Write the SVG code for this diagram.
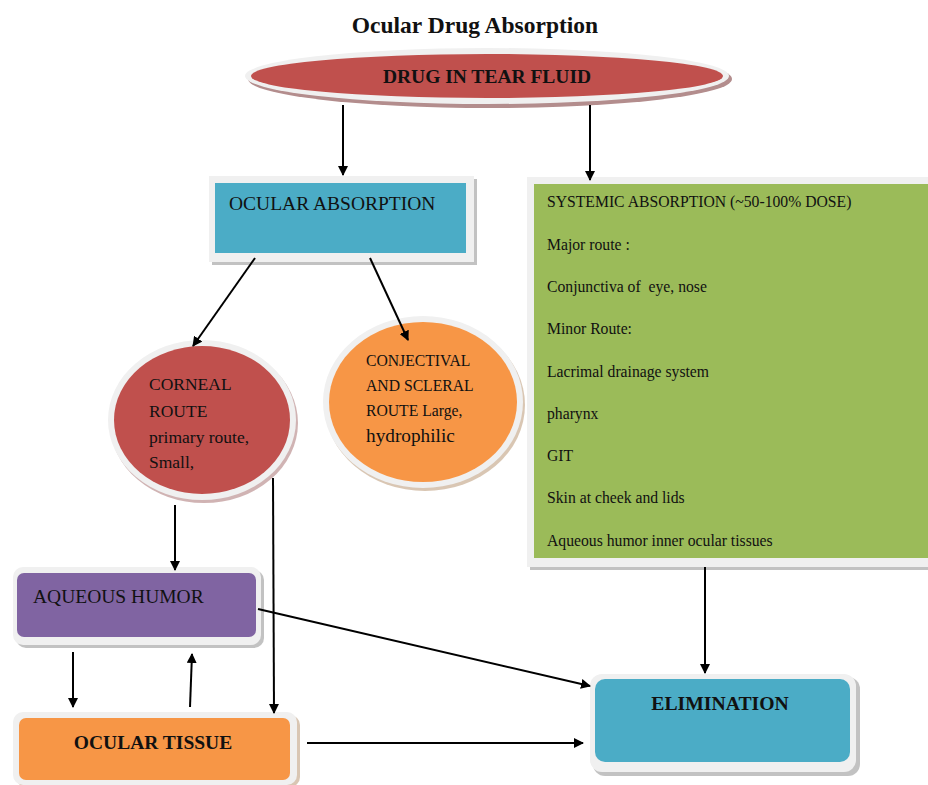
<svg xmlns="http://www.w3.org/2000/svg" width="928" height="785" viewBox="0 0 928 785">
<defs>
<marker id="ah" markerWidth="10" markerHeight="10" refX="9" refY="5" orient="auto" markerUnits="userSpaceOnUse">
<path d="M0,0 L10,5 L0,10 Z" fill="#000"/>
</marker>
</defs>
<style>
.t{font-family:"Liberation Serif","Times New Roman",serif;fill:#111}
.b{font-weight:bold}
.sh{fill:#9a9a9a;opacity:0.6}
.rim{fill:#f0f0f0}
.con{stroke:#000;stroke-width:2;fill:none;marker-end:url(#ah)}
</style>
<rect width="928" height="785" fill="#fff"/>
<text class="t b" x="475" y="33" font-size="23.5" text-anchor="middle">Ocular Drug Absorption</text>

<g id="drug">
<ellipse cx="490" cy="79" rx="242" ry="29" fill="#a07070" opacity="0.8"/>
<ellipse cx="487" cy="76" rx="242" ry="28" class="rim"/>
<ellipse cx="487" cy="76" rx="236" ry="22" fill="#C0504D"/>
<text class="t b" x="487" y="83" font-size="19.5" text-anchor="middle">DRUG IN TEAR FLUID</text>
</g>

<g id="ocular">
<rect x="212" y="179" width="265" height="86" class="sh"/>
<rect x="209" y="176" width="265" height="86" class="rim"/>
<rect x="215" y="183" width="251" height="70" fill="#4BACC6"/>
<text class="t" x="229" y="210" font-size="19.5">OCULAR ABSORPTION</text>
</g>

<g id="systemic">
<rect x="530" y="180" width="400" height="390" class="sh"/>
<rect x="527" y="177" width="401" height="390" class="rim"/>
<rect x="534" y="184" width="394" height="374" fill="#9BBB59"/>
<g class="t" font-size="15.7">
<text x="547" y="207">SYSTEMIC ABSORPTION (~50-100% DOSE)</text>
<text x="547" y="250">Major route :</text>
<text x="547" y="292" xml:space="preserve">Conjunctiva of  eye, nose</text>
<text x="547" y="334">Minor Route:</text>
<text x="547" y="377">Lacrimal drainage system</text>
<text x="547" y="419">pharynx</text>
<text x="547" y="461">GIT</text>
<text x="547" y="503">Skin at cheek and lids</text>
<text x="547" y="546">Aqueous humor inner ocular tissues</text>
</g>
</g>

<g id="corneal">
<ellipse cx="204" cy="423" rx="94" ry="80" fill="#b08080" opacity="0.6"/>
<ellipse cx="202" cy="420" rx="94" ry="80" class="rim"/>
<ellipse cx="202" cy="420" rx="88" ry="74" fill="#C0504D"/>
<g class="t" font-size="17.5">
<text x="149" y="390">CORNEAL</text>
<text x="149" y="417">ROUTE</text>
<text x="149" y="443">primary route,</text>
<text x="149" y="468">Small,</text>
</g>
</g>

<g id="conjectival">
<ellipse cx="425" cy="405" rx="100" ry="86" fill="#c0a080" opacity="0.6"/>
<ellipse cx="423" cy="402" rx="100" ry="86" class="rim"/>
<ellipse cx="423" cy="402" rx="94" ry="80" fill="#F79646"/>
<g class="t" font-size="15.7">
<text x="366" y="366">CONJECTIVAL</text>
<text x="366" y="391">AND SCLERAL</text>
<text x="366" y="416">ROUTE Large,</text>
<text x="366" y="442" font-size="19.3">hydrophilic</text>
</g>
</g>

<g id="aqueous">
<rect x="16" y="570" width="248" height="78" rx="10" class="sh"/>
<rect x="13" y="567" width="248" height="78" rx="10" class="rim"/>
<rect x="17" y="573" width="239" height="64" rx="7" fill="#8064A2"/>
<text class="t" x="33" y="603" font-size="19.5">AQUEOUS HUMOR</text>
</g>

<g id="tissue">
<rect x="16" y="715" width="284" height="72" rx="10" fill="#c0a080" opacity="0.6"/>
<rect x="13" y="712" width="284" height="73" rx="10" class="rim"/>
<rect x="19" y="718" width="271" height="62" rx="7" fill="#F79646"/>
<text class="t b" x="153" y="749" font-size="19.5" text-anchor="middle">OCULAR TISSUE</text>
</g>

<g id="elimination">
<rect x="593" y="677" width="267" height="99" rx="12" class="sh"/>
<rect x="590" y="674" width="266" height="98" rx="12" class="rim"/>
<rect x="595" y="679" width="255" height="83" rx="10" fill="#4BACC6"/>
<text class="t b" x="720" y="710" font-size="19.7" text-anchor="middle">ELIMINATION</text>
</g>

<g id="connectors">
<line class="con" x1="343" y1="105" x2="343" y2="175"/>
<line class="con" x1="590" y1="105" x2="590" y2="180"/>
<line class="con" x1="255" y1="258" x2="193" y2="346"/>
<line class="con" x1="370" y1="258" x2="408" y2="340"/>
<line class="con" x1="175" y1="505" x2="175" y2="570"/>
<line class="con" x1="273" y1="478" x2="274" y2="713"/>
<line class="con" x1="73" y1="652" x2="73" y2="707"/>
<line class="con" x1="190" y1="707" x2="192" y2="654"/>
<line class="con" x1="258" y1="609" x2="590" y2="686"/>
<line class="con" x1="307" y1="743" x2="583" y2="743"/>
<line class="con" x1="705" y1="567" x2="705" y2="673"/>
</g>
</svg>
